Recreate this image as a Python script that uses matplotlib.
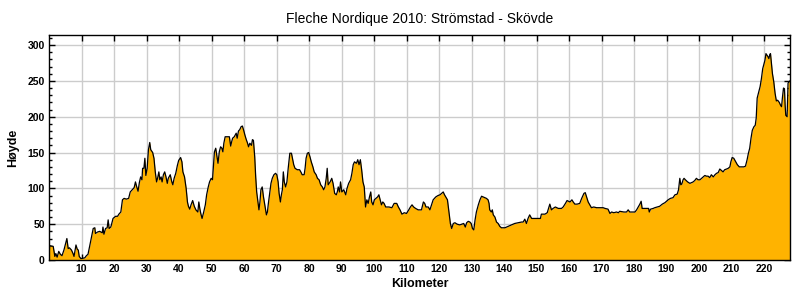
import matplotlib
matplotlib.use("Agg")
import matplotlib.pyplot as plt
from matplotlib.ticker import MultipleLocator

title = "Fleche Nordique 2010: Strömstad - Skövde"
xlabel = "Kilometer"
ylabel = "Høyde"

km = [0, 0.2, 1.3, 1.8, 2.1, 2.5, 3.0, 3.5, 4.0, 4.6, 5.1, 5.5, 5.9, 6.3, 6.9, 7.4, 7.7, 8.3, 8.7, 9.0,
      9.3, 9.8, 11.0, 11.5, 12.0, 12.5, 13.1, 13.6, 14.1, 14.3, 14.9, 15.6, 16.4, 16.6, 16.9, 17.4, 17.9,
      18.2, 18.5, 19.0, 19.2, 19.7, 20.5, 21.1, 21.5, 22.1, 22.6, 23.1, 23.8, 24.5, 25.0, 25.6, 26.2,
      26.6, 27.0, 27.4, 27.8, 28.2, 28.6, 28.8, 29.2, 29.5, 29.8, 30.2, 30.6, 31.0, 31.3, 31.9, 32.3,
      32.7, 33.1, 33.4, 33.8, 34.1, 34.5, 34.8, 35.2, 35.6, 36.0, 36.4, 36.7, 37.3, 37.8, 38.1, 38.5,
      39.0, 39.5, 39.9, 40.5, 40.9, 41.2, 41.7, 42.2, 42.6, 42.9, 43.3, 43.7, 44.2, 44.7, 45.2, 45.8,
      46.1, 46.4, 46.7, 47.1, 47.6, 48.1, 48.5, 49.0, 49.4, 49.9, 50.3, 50.6, 50.9, 51.3, 51.7, 52.0,
      52.4, 52.8, 53.2, 53.5, 53.8, 54.2, 54.7, 55.5, 55.9, 56.2, 56.5, 57.0, 57.6, 57.9, 58.3, 58.7,
      59.1, 59.5, 59.9, 60.3, 60.7, 61.1, 61.4, 61.8, 62.3, 62.6, 62.9, 63.3, 63.6, 63.9, 64.3, 64.6,
      64.9, 65.2, 65.6, 66.0, 66.5, 66.9, 67.2, 67.5, 67.9, 68.3, 68.7, 69.2, 69.7, 70.1, 70.5, 70.8,
      71.2, 71.5, 71.8, 72.1, 72.4, 72.8, 73.2, 73.6, 74.1, 74.6, 74.9, 75.3, 75.7, 76.4, 77.1, 77.6,
      77.9, 78.5, 78.8, 79.1, 79.5, 79.9, 80.3, 80.7, 81.2, 81.6, 82.2, 82.6, 83.1, 83.6, 84.1, 84.5,
      84.9, 85.3, 85.6, 85.9, 86.5, 87.0, 87.4, 87.9, 88.4, 88.7, 89.0, 89.4, 89.7, 90.1, 90.7, 91.3,
      91.7, 92.2, 92.8, 93.2, 93.6, 94.0, 94.6, 95.0, 95.4, 95.8, 96.2, 96.6, 97.0, 97.4, 97.8, 98.2,
      98.6, 99.0, 99.3, 99.7, 100.1, 100.6, 101.1, 101.5, 101.9, 102.3, 102.7, 103.1, 103.6, 104.6,
      105.5, 106.2, 107.0, 107.5, 108.0, 108.6, 109.3, 110.0, 110.7, 111.2, 111.7, 112.2, 112.8, 113.6,
      114.6, 115.2, 115.6, 116.0, 116.7, 117.2, 117.7, 118.2, 119.0, 119.7, 120.3, 120.8, 121.3, 121.7,
      122.1, 122.6, 123.1, 123.5, 123.9, 124.4, 124.9, 125.6, 126.4, 127.0, 127.6, 128.1, 128.5, 129.0,
      129.5, 129.9, 130.3, 130.7, 131.1, 131.5, 132.1, 132.6, 133.1, 133.6, 134.1, 134.6, 135.1, 135.4,
      135.6, 136.1, 136.4, 136.7, 137.2, 137.7, 138.2, 138.7, 139.2, 140.3, 141.3, 142.3, 143.3, 144.4,
      145.4, 145.9, 146.4, 146.9, 147.4, 147.9, 148.5, 149.8, 151.2, 151.5, 152.6, 153.3, 153.7, 154.1,
      154.6, 155.1, 155.8, 156.7, 157.7, 158.2, 158.9, 159.4, 160.3, 160.9, 161.3, 161.8, 162.5, 163.3,
      163.9, 164.6, 165.0, 165.4, 165.9, 166.4, 166.9, 167.6, 168.5, 169.5, 170.5, 171.1, 172.0, 172.6,
      173.1, 173.8, 174.6, 175.2, 175.6, 176.9, 177.7, 178.2, 178.7, 180.3, 180.8, 181.3, 181.8, 182.2,
      182.5, 183.8, 184.5, 184.7, 185.1, 185.9, 186.4, 187.1, 187.9, 188.7, 189.5, 190.5, 191.2, 192.0,
      192.6, 193.3, 193.7, 194.1, 194.4, 194.7, 195.1, 195.4, 195.8, 196.5, 197.2, 197.7, 198.2, 198.7,
      199.2, 199.7, 200.3, 200.8, 201.3, 201.8, 202.3, 202.8, 203.3, 203.8, 204.4, 204.9, 205.4, 205.9,
      206.4, 206.9, 207.4, 207.9, 208.5, 209.0, 209.5, 209.8, 210.2, 210.7, 211.3, 211.8, 212.4, 213.8,
      214.3, 214.8, 215.2, 215.6, 216.0, 216.4, 216.9, 217.3, 217.6, 217.9, 218.4, 218.8, 219.2, 219.6,
      220.0, 220.3, 220.6, 220.9, 221.2, 221.5, 221.8, 222.0, 222.3, 222.6, 223.0, 223.4, 223.8, 224.2,
      224.7, 225.1, 225.4, 225.7, 226.0, 226.3, 226.5, 226.7, 227.1, 227.4, 228.0]

height = [5, 20, 19, 5, 9, 4, 12, 8, 6, 14, 23, 30, 16, 17, 14, 9, 5, 21, 15, 14,
          5, 2, 3, 6, 8, 19, 33, 44, 45, 37, 39, 40, 38, 46, 36, 44, 45,
          56, 44, 46, 49, 58, 61, 61, 64, 67, 84, 86, 85, 86, 95, 98, 101,
          109, 102, 96, 108, 116, 112, 128, 128, 142, 118, 128, 154, 164, 154, 150, 142,
          123, 109, 114, 123, 112, 116, 109, 119, 123, 116, 107, 114, 119, 109, 105, 114,
          121, 132, 139, 143, 137, 123, 116, 100, 81, 75, 71, 77, 83, 75, 70, 67,
          81, 72, 65, 58, 67, 77, 91, 102, 109, 114, 112, 132, 151, 156, 144, 135,
          151, 158, 156, 151, 163, 172, 172, 172, 159, 165, 170, 172, 177, 170, 180, 182,
          186, 187, 181, 174, 168, 163, 158, 163, 160, 168, 167, 144, 116, 95, 81, 70,
          81, 98, 102, 88, 74, 63, 67, 79, 93, 107, 114, 119, 121, 119, 109, 93,
          81, 91, 98, 123, 109, 102, 109, 128, 149, 149, 142, 133, 128, 126, 126, 122,
          119, 119, 128, 142, 149, 150, 144, 137, 130, 123, 119, 114, 112, 105, 102, 98,
          102, 114, 128, 105, 109, 114, 107, 93, 91, 95, 102, 95, 109, 95, 98, 91,
          100, 107, 112, 121, 133, 137, 135, 140, 133, 140, 126, 109, 102, 74, 84, 79,
          88, 95, 81, 77, 84, 86, 88, 91, 84, 77, 81, 79, 74, 74,
          73, 79, 79, 74, 70, 64, 66, 65, 70, 74, 77, 74, 72, 70,
          70, 81, 79, 74, 74, 70, 77, 84, 88, 90, 91, 93, 95, 91,
          88, 84, 65, 51, 44, 51, 52, 50, 49, 50, 51, 46, 52, 54,
          53, 51, 44, 42, 56, 67, 77, 84, 89, 88, 87, 86, 84, 79,
          70, 67, 70, 63, 60, 53, 51, 47, 45, 45, 47, 49, 51, 52,
          53, 53, 57, 51, 58, 63, 58, 58, 58, 64, 64, 66, 72, 78,
          70, 72, 74, 72, 72, 74, 79, 83, 81, 84, 81, 78, 78, 79,
          86, 93, 94, 88, 81, 77, 73, 74, 73, 73, 73, 72, 71, 65,
          67, 66, 67, 66, 68, 67, 67, 70, 67, 67, 70, 74, 78, 82,
          72, 72, 72, 67, 71, 72, 73, 74, 75, 78, 80, 84, 86, 87,
          91, 92, 98, 114, 105, 106, 112, 114, 112, 109, 107, 108, 109, 111,
          114, 112, 112, 114, 116, 118, 117, 117, 115, 119, 116, 119, 121, 122,
          127, 125, 123, 126, 127, 128, 130, 137, 143, 142, 137, 133, 130, 130,
          131, 140, 149, 156, 170, 181, 186, 188, 198, 226, 235, 242, 253, 267,
          274, 279, 288, 286, 284, 281, 287, 288, 274, 260, 249, 233, 222, 223,
          220, 216, 214, 228, 240, 239, 216, 202, 200, 247, 250]

x_ticks = list(range(10, 230, 10))
y_ticks = [0, 50, 100, 150, 200, 250, 300]

fig = plt.figure(figsize=(8, 3), dpi=100)
ax = fig.add_axes([0.06125, 0.1333, 0.92625, 0.75])

ax.fill_between(km, height, 0, color="#FFB300", linewidth=0, zorder=2)
ax.plot(km, height, color="black", linewidth=0.9, zorder=3)

ax.set_xlim(0, 228)
ax.set_ylim(0, 314)
ax.set_xticks(x_ticks)
ax.set_yticks(y_ticks)
ax.yaxis.set_minor_locator(MultipleLocator(10))
ax.grid(True, which="major", color="#cccccc", linewidth=1, zorder=1)
ax.set_axisbelow(True)

ax.tick_params(axis="both", which="major", direction="in", length=4, width=1,
               top=True, right=True, labelsize=7.5, pad=3)
ax.tick_params(axis="y", which="minor", direction="in", length=2.5, width=1, right=True)
for lab in ax.get_xticklabels() + ax.get_yticklabels():
    lab.set_fontweight("bold")
    lab.set_family("Liberation Sans")

for sp in ax.spines.values():
    sp.set_linewidth(1)
    sp.set_zorder(4)

ax.set_title(title, fontsize=10, family="Liberation Sans", pad=9)
ax.set_xlabel(xlabel, fontsize=9, family="Liberation Sans", fontweight="bold", labelpad=3)
ax.set_ylabel(ylabel, fontsize=9, family="Liberation Sans", fontweight="bold", labelpad=6)

fig.savefig("out.png", dpi=100)
